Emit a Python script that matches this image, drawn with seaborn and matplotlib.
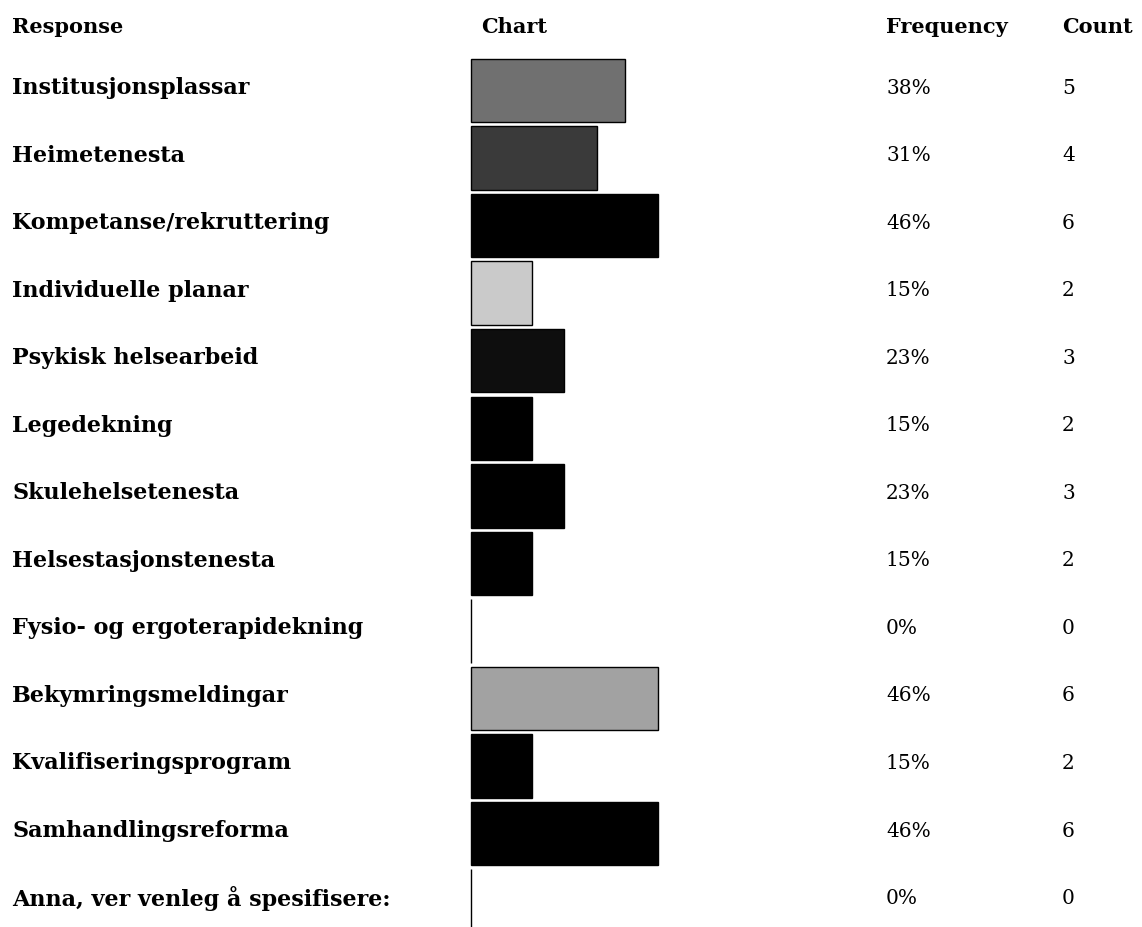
import matplotlib
matplotlib.use("Agg")
import matplotlib.pyplot as plt
import matplotlib.transforms as mtransforms
import seaborn as sns
import pandas as pd

responses = [
    "Institusjonsplassar",
    "Heimetenesta",
    "Kompetanse/rekruttering",
    "Individuelle planar",
    "Psykisk helsearbeid",
    "Legedekning",
    "Skulehelsetenesta",
    "Helsestasjonstenesta",
    "Fysio- og ergoterapidekning",
    "Bekymringsmeldingar",
    "Kvalifiseringsprogram",
    "Samhandlingsreforma",
    "Anna, ver venleg å spesifisere:",
]
frequency = [38, 31, 46, 15, 23, 15, 23, 15, 0, 46, 15, 46, 0]
counts = [5, 4, 6, 2, 3, 2, 3, 2, 0, 6, 2, 6, 0]
bar_colors = ["#707070", "#3a3a3a", "#000000", "#cacaca", "#0e0e0e", "#000000",
              "#000000", "#000000", "#000000", "#a2a2a2", "#000000", "#000000",
              "#000000"]
headers = ["Response", "Chart", "Frequency", "Count"]

df = pd.DataFrame({"Response": responses, "Frequency": frequency})

sns.set_style("white")
plt.rcParams["font.family"] = ["DejaVu Serif"]
plt.rcParams["text.color"] = "black"

fig = plt.figure(figsize=(11.42, 9.28), dpi=100)
ax = fig.add_axes([0, 0, 1, 1])

sns.barplot(data=df, x="Frequency", y="Response", hue="Response",
            palette=bar_colors, orient="h", width=0.94, legend=False,
            edgecolor="black", linewidth=1.0, saturation=1, ax=ax)

# map: 0% -> 471 px, 1% ~ 4.07 px ; row i centre -> 91.5 + 67.55*i px
px_per = 4.065
row0, step = 91.5, 67.55
ax.set_xlim(-471 / px_per, (1142 - 471) / px_per)
ax.set_ylim((928 - row0) / step, -row0 / step)
ax.axis("off")

trans = mtransforms.blended_transform_factory(fig.transFigure, ax.transData)
head_y = (27 - row0) / step
col_x = [12 / 1142, 481 / 1142, 886 / 1142, 1062 / 1142]
for x, h in zip(col_x, headers):
    ax.text(x, head_y, h, transform=trans, va="center", ha="left",
            fontsize=15, fontweight="bold")

for i, (r, f, c) in enumerate(zip(responses, frequency, counts)):
    yy = i - 3.5 / step
    ax.text(col_x[0], yy, r, transform=trans, va="center", ha="left",
            fontsize=16, fontweight="bold")
    ax.text(col_x[2], yy, f"{f}%", transform=trans, va="center", ha="left",
            fontsize=14.5)
    ax.text(col_x[3], yy, str(c), transform=trans, va="center", ha="left",
            fontsize=14.5)

fig.savefig("out.png", dpi=100)
